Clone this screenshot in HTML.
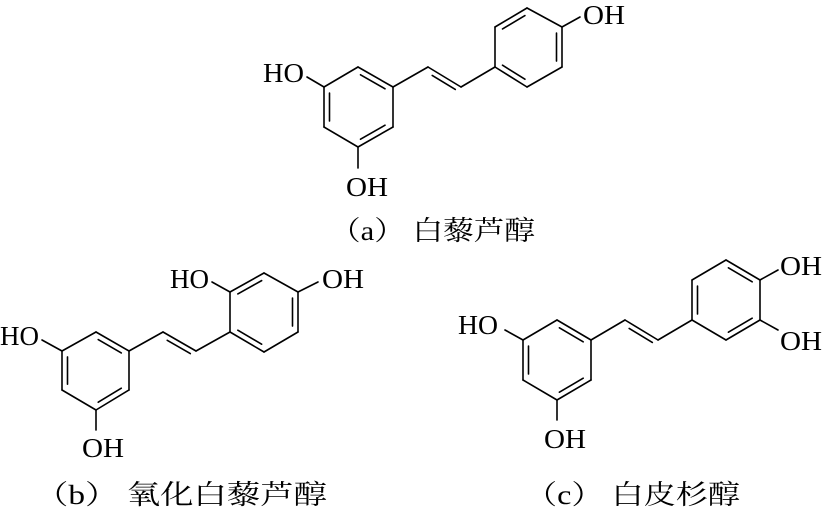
<!DOCTYPE html>
<html><head><meta charset="utf-8"><style>
html,body{margin:0;padding:0;background:#fff;}
svg{display:block}
text{font-family:"Liberation Serif","Noto Serif CJK SC",serif;fill:#000}
.lab{font-family:"Liberation Serif","Noto Serif CJK SC",serif;font-size:27px}
.g{font-size:27px}
</style></head><body>
<svg id="s" width="823" height="507" viewBox="0 0 823 507" xmlns="http://www.w3.org/2000/svg">
<g id="b" stroke="#000" stroke-width="1.6" fill="none" stroke-linecap="round"></g>
<g class="g">
<text x="263" y="82" textLength="41" lengthAdjust="spacingAndGlyphs">HO</text>
<text x="346" y="196" textLength="42" lengthAdjust="spacingAndGlyphs">OH</text>
<text x="583" y="24" textLength="42" lengthAdjust="spacingAndGlyphs">OH</text>
<text x="0" y="345" textLength="39" lengthAdjust="spacingAndGlyphs">HO</text>
<text x="82" y="457" textLength="42" lengthAdjust="spacingAndGlyphs">OH</text>
<text x="170" y="288" textLength="39" lengthAdjust="spacingAndGlyphs">HO</text>
<text x="322" y="288" textLength="42" lengthAdjust="spacingAndGlyphs">OH</text>
<text x="458" y="334" textLength="40" lengthAdjust="spacingAndGlyphs">HO</text>
<text x="544" y="448" textLength="42" lengthAdjust="spacingAndGlyphs">OH</text>
<text x="780" y="275" textLength="42" lengthAdjust="spacingAndGlyphs">OH</text>
<text x="780" y="350" textLength="42" lengthAdjust="spacingAndGlyphs">OH</text>
</g>
<text class="lab" x="330" y="240" textLength="205" lengthAdjust="spacingAndGlyphs">（a） 白藜芦醇</text>
<text class="lab" x="35" y="504" textLength="292" lengthAdjust="spacingAndGlyphs">（b） 氧化白藜芦醇</text>
<text class="lab" x="525" y="504" textLength="215" lengthAdjust="spacingAndGlyphs">（c） 白皮杉醇</text>
</svg>
<script>
var g=document.getElementById('b'),NS='http://www.w3.org/2000/svg';
function L(a,b){var l=document.createElementNS(NS,'line');l.setAttribute('x1',a[0]);l.setAttribute('y1',a[1]);l.setAttribute('x2',b[0]);l.setAttribute('y2',b[1]);g.appendChild(l);}
function inner(a,b,c){var dx=b[0]-a[0],dy=b[1]-a[1],s=0.15;var p=[a[0]+dx*s,a[1]+dy*s],q=[b[0]-dx*s,b[1]-dy*s];var mx=(a[0]+b[0])/2,my=(a[1]+b[1])/2,vx=c[0]-mx,vy=c[1]-my,d=Math.hypot(vx,vy);var o=5.5;L([p[0]+vx/d*o,p[1]+vy/d*o],[q[0]+vx/d*o,q[1]+vy/d*o]);}
function ring(v,dbl){var c=[0,0];v.forEach(function(p){c[0]+=p[0]/6;c[1]+=p[1]/6});for(var i=0;i<6;i++){L(v[i],v[(i+1)%6]);}dbl.forEach(function(i){inner(v[i],v[(i+1)%6],c)});}
ring([[358,67],[393,87],[393,127],[358,147],[324,127],[324,87]],[0,2,4]);
L([324,87],[307,77]);L([358,147],[358,168]);
L([393,87],[428,67]);L([428,67],[461,87]);L([461,87],[495,67]);inner([428,67],[461,87],[440,110]);
ring([[495,67],[495,27],[527,8],[562,27],[562,67],[527,87]],[1,3,5]);
L([562,27],[580,17]);
ring([[96,332],[129,351],[129,390],[96,410],[62,390],[62,351]],[0,2,4]);
L([62,351],[42,340]);L([96,410],[96,430]);
L([129,351],[163,332]);L([163,332],[196,351]);L([196,351],[230,332]);inner([163,332],[196,351],[175,375]);
ring([[230,332],[230,292],[264,273],[298,292],[298,332],[264,352]],[1,3,5]);
L([230,292],[212,282]);L([298,292],[318,282]);
ring([[557,320],[591,340],[591,380],[557,400],[523,380],[523,340]],[0,2,4]);
L([523,340],[505,330]);L([557,400],[557,420]);
L([591,340],[625,320]);L([625,320],[658,340]);L([658,340],[692,320]);inner([625,320],[658,340],[637,363]);
ring([[692,320],[692,280],[726,260],[760,280],[760,320],[726,340]],[0,2,4]);
L([760,280],[778,270]);L([760,320],[778,330]);
</script>
</body></html>
